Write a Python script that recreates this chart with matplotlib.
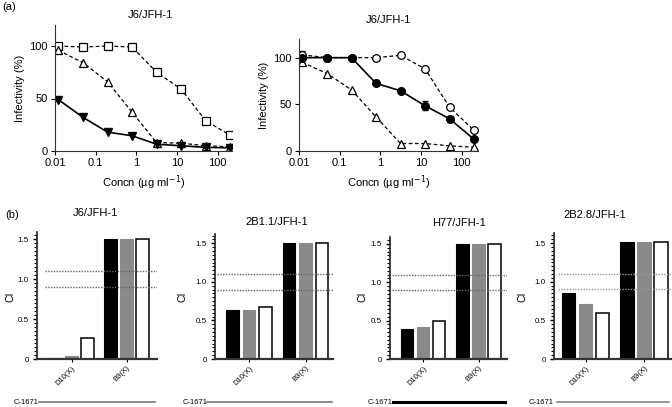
import matplotlib
matplotlib.use("Agg")
import matplotlib.pyplot as plt
from matplotlib.lines import Line2D
from matplotlib.ticker import MultipleLocator, FixedLocator, NullLocator

plt.rcParams['font.family'] = ['Liberation Sans', 'DejaVu Sans']

# ---- data ----
conc = [0.012, 0.049, 0.195, 0.78, 3.125, 12.5, 50, 200]

# panel (a) left
left_square = [100, 99, 100, 99, 75, 59, 29, 15]
left_tri_up = [96, 84, 66, 37, 8, 7.5, 5, 4]
left_tri_down = [49, 32, 18, 14.5, 6.5, 5, 3.5, 3]

# panel (a) right
right_open_circle = [103, 100, 100, 100, 102.5, 88, 47, 22]
right_open_circle_err = [4, 0, 0, 0, 0, 0, 0, 0]
right_filled_circle = [100, 100, 100, 72.5, 64.5, 48.5, 34.5, 12.5]
right_filled_circle_err = [0, 0, 0, 0, 0, 5, 0, 0]
right_tri_up = [95, 83, 65.5, 36.5, 8, 8, 5.5, 4]

# panel (b)
groups = ['D10(X)', 'B9(X)']
strains = ['J6/JFH-1', '2B1.1/JFH-1', 'H77/JFH-1', '2B2.8/JFH-1']
ci_black = [[0.01, 1.5], [0.64, 1.5], [0.39, 1.5], [0.85, 1.52]]
ci_grey = [[0.04, 1.5], [0.64, 1.5], [0.42, 1.5], [0.71, 1.52]]
ci_white = [[0.26, 1.5], [0.67, 1.5], [0.49, 1.5], [0.60, 1.52]]
ci_ytop = [1.59, 1.62, 1.59, 1.63]
ci_upper = 1.1
ci_lower = 0.9

W, H = 672, 407
fig = plt.figure(figsize=(W / 100, H / 100), dpi=100)


def ax_at(l, t, r, b):
    return fig.add_axes([l / W, 1 - b / H, (r - l) / W, (b - t) / H])


def ftext(x, y, s, **kw):
    fig.text(x / W, 1 - y / H, s, **kw)


def style_top(ax):
    ax.set_xscale('log')
    ax.set_ylim(0, 120)
    ax.set_yticks([0, 50, 100])
    ax.xaxis.set_major_locator(FixedLocator([0.01, 0.1, 1, 10, 100]))
    ax.xaxis.set_minor_locator(NullLocator())
    ax.set_xticklabels(['0.01', '0.1', '1', '10', '100'])
    for s in ['top', 'right']:
        ax.spines[s].set_visible(False)
    for s in ['left', 'bottom']:
        ax.spines[s].set_linewidth(0.8)
        ax.spines[s].set_color('#333333')
    ax.tick_params(labelsize=8, length=3, width=0.8, direction='out', pad=2)
    ax.set_ylabel('Infectivity (%)', fontsize=8, labelpad=3)
    ax.set_xlabel('Concn (\u00b5g ml$^{-1}$)', fontsize=8, labelpad=4)


# ---- (a) left ----
ax1 = ax_at(55, 25, 232, 151)
ax1.plot(conc, left_square, 's--', color='black', lw=0.9, ms=6,
         mfc='white', mec='black', mew=0.9, dashes=(3, 2))
ax1.plot(conc, left_tri_up, '^--', color='black', lw=0.9, ms=6,
         mfc='white', mec='black', mew=0.9, dashes=(3, 2))
ax1.plot(conc, left_tri_down, 'v-', color='black', lw=1.2, ms=6,
         mfc='black', mec='black')
ax1.set_xlim(0.01, 223)
style_top(ax1)
ftext(150, 15, 'J6/JFH-1', fontsize=8, ha='center', va='center')

# ---- (a) right ----
ax2 = ax_at(299, 39, 478, 151)
ax2.errorbar(conc, right_open_circle, yerr=right_open_circle_err, fmt='o--',
             color='black', lw=0.9, ms=5.5, mfc='white', mec='black', mew=0.9,
             capsize=2, elinewidth=0.9, dashes=(3, 2))
ax2.plot(conc, right_tri_up, '^--', color='black', lw=0.9, ms=6,
         mfc='white', mec='black', mew=0.9, dashes=(3, 2))
ax2.errorbar(conc, right_filled_circle, yerr=right_filled_circle_err, fmt='o-',
             color='black', lw=1.2, ms=5.5, mfc='black', mec='black',
             capsize=2, elinewidth=1.2)
ax2.set_xlim(0.01, 250)
style_top(ax2)
ftext(388, 20, 'J6/JFH-1', fontsize=8, ha='center', va='center')

ftext(2, 7, '(a)', fontsize=8, ha='left', va='center')
ftext(5, 215, '(b)', fontsize=8, ha='left', va='center')

# ---- (b) bar panels ----
# pixel layout: axes l/t/r, group-0 centre, group spacing, title x/y,
# CI label x, C-1671 label x, line start/end, line colour/width, dotted start
layout = [
    (37, 232, 157, 71.5, 55, 95, 213, 10, 14, 39, 155, '#777777', 1.2, 0.067),
    (215, 234, 333, 249, 56.5, 277, 222, 182, 183, 207, 332, '#777777', 1.2, 0.02),
    (390, 237, 507, 423, 55.5, 459, 223, 363, 368, 393, 505, 'black', 2.2, 0.02),
    (554, 233, 672, 585.5, 58.5, 595, 215, 523, 529, 557, 669, '#888888', 1.2, 0.03),
]
bottom_px = 359
bw = 0.225
off = 0.29

for i, (l, t, r, c0, sp, tx, ty, cx, lx, l0, l1, lc, llw, hx) in enumerate(layout):
    ax = ax_at(l, t, r, bottom_px)
    xs = [0, 1]
    ax.bar([x - off for x in xs], ci_black[i], width=bw, color='black',
           edgecolor='black', lw=0.8)
    ax.bar(xs, ci_grey[i], width=bw, color='#8a8a8a', edgecolor='#8a8a8a', lw=0.8)
    ax.bar([x + off for x in xs], ci_white[i], width=bw, color='white',
           edgecolor='black', lw=1.1)
    ax.set_xlim((l - c0) / sp, (r - c0) / sp)
    ax.set_ylim(0, ci_ytop[i])
    hcol = '#999999' if i == 3 else '#666666'
    ax.axhline(ci_upper, xmin=hx, xmax=1, color=hcol, ls=(0, (1, 1)), lw=1)
    ax.axhline(ci_lower, xmin=hx, xmax=1, color=hcol, ls=(0, (1, 1)), lw=1)
    ax.set_xticks(xs)
    ax.set_xticklabels(groups, rotation=45, ha='right', rotation_mode='anchor',
                       fontsize=5.5)
    ax.set_yticks([0, 0.5, 1.0, 1.5])
    ax.set_yticklabels(['0', '0.5', '1.0', '1.5'], fontsize=5.8)
    ax.yaxis.set_minor_locator(MultipleLocator(0.05))
    for s in ['top', 'right']:
        ax.spines[s].set_visible(False)
    ax.spines['left'].set_linewidth(1.2)
    ax.spines['bottom'].set_linewidth(1.6)
    ax.spines['left'].set_color('#222222')
    ax.spines['bottom'].set_color('#333333')
    ax.tick_params(axis='y', which='major', length=3, width=1, pad=3)
    ax.tick_params(axis='y', which='minor', length=2, width=0.8)
    ax.tick_params(axis='x', length=2, width=0.8, pad=2)
    ftext(tx, ty, strains[i], fontsize=8, ha='center', va='center')
    ftext(cx, 297, 'CI', fontsize=7.5, ha='center', va='center', rotation=90)
    ftext(lx, 402, 'C-1671', fontsize=5.5, ha='left', va='center')
    fig.add_artist(Line2D([l0 / W, l1 / W], [1 - 402 / H, 1 - 402 / H],
                          color=lc, lw=llw))

plt.savefig('out.png', dpi=100)
